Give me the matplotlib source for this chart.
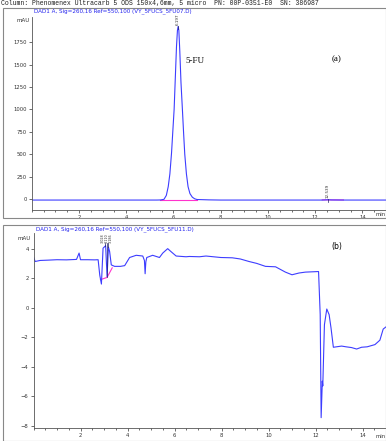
import matplotlib
matplotlib.use("Agg")
import matplotlib.pyplot as plt
from matplotlib.patches import Rectangle
from matplotlib.ticker import MultipleLocator

# ---------------- data ----------------
header = "Column: Phenomenex Ultracarb 5 ODS 150x4,6mm, 5 micro  PN: 00P-0351-E0  SN: 386987"
title_a = "DAD1 A, Sig=260,16 Ref=550,100 (VY_5FUCS_5FU07.D)"
title_b = "DAD1 A, Sig=260,16 Ref=550,100 (VY_5FUCS_5FU11.D)"

time_a = [0, 5.3, 5.45, 5.6, 5.7, 5.78, 5.85, 5.92, 5.98, 6.03, 6.08, 6.13, 6.17,
          6.20, 6.23, 6.27, 6.32, 6.38, 6.43, 6.48, 6.55, 6.62, 6.7, 6.8, 6.9,
          7.0, 7.5, 8.0, 12.3, 12.4, 12.54, 12.7, 13.2, 15.0]
signal_a = [-12, -12, -11, -4, 40, 137, 280, 513, 780, 1000, 1350, 1700, 1880,
            1925, 1880, 1650, 1300, 1000, 740, 500, 280, 137, 60, 20, 2,
            -6, -10, -12, -12, -11, -9, -11, -12, -12]
base_a_t = [5.43, 6.98]
base_a_v = [-12, -12]
base_a2_t = [12.3, 13.2]
base_a2_v = [-10, -11]
peak_a_t = [6.197, 12.539]
peak_a_v = [1925, -9]
peak_a_lbl = ["6.197", "12.539"]

time_b = [0, 0.07, 0.28, 0.6, 1.0, 1.4, 1.83, 1.94, 2.0, 2.3, 2.6, 2.75, 2.82, 2.89,
          2.96, 3.07, 3.13, 3.19, 3.24, 3.31, 3.45, 3.7, 3.88, 4.09, 4.37, 4.65,
          4.72, 4.75, 4.78, 4.82, 5.07, 5.36, 5.5, 5.71, 5.85, 6.07, 6.49, 6.63,
          7.06, 7.34, 7.97, 8.46, 8.8, 9.17, 9.5, 9.87, 10.3, 10.72, 11.0, 11.3,
          11.57, 12.13, 12.2, 12.24, 12.29, 12.31, 12.38, 12.48, 12.58, 12.66,
          12.76, 13.11, 13.3, 13.53, 13.75, 13.96, 14.2, 14.53, 14.74, 14.88, 15.0]
signal_b = [3.45, 3.13, 3.2, 3.22, 3.25, 3.24, 3.27, 3.7, 3.25, 3.25, 3.24, 3.25, 2.2, 1.6,
            4.03, 4.2, 2.1, 4.1, 3.8, 2.9, 2.8, 2.8, 2.85, 3.4, 3.55, 3.5,
            3.2, 2.3, 3.1, 3.4, 3.55, 3.4, 3.7, 4.0, 3.8, 3.5, 3.45, 3.47,
            3.45, 3.5, 3.4, 3.38, 3.3, 3.13, 3.0, 2.8, 2.77, 2.41, 2.23, 2.35,
            2.41, 2.45, -0.47, -7.45, -4.98, -5.3, -1.15, -0.09, -0.47, -1.37,
            -2.68, -2.6, -2.65, -2.7, -2.8, -2.68, -2.65, -2.5, -2.2, -1.45, -1.3]
base_b_t = [2.85, 3.13, 3.35]
base_b_v = [1.9, 2.05, 2.7]
peak_b_t = [3.03, 3.11, 3.19]
peak_b_v = [4.2, 2.1, 4.1]
peak_b_lbl = ["3.028", "3.110", "3.186"]

yt_a = [0, 250, 500, 750, 1000, 1250, 1500, 1750]
yt_b = [-8, -6, -4, -2, 0, 2, 4]
xt = [2, 4, 6, 8, 10, 12, 14]

# ---------------- figure ----------------
W, H = 386, 441
fig = plt.figure(figsize=(W / 100, H / 100), dpi=100)
fig.patch.set_facecolor("white")

def fx(px):
    return px / W

def fy(py):
    return 1 - py / H

# outer frames
for (x0, y0, x1, y1) in [(3, 8, 386, 218), (3, 225, 386, 441)]:
    fig.patches.append(Rectangle((fx(x0), fy(y1)), fx(x1 - x0), (y1 - y0) / H,
                                 transform=fig.transFigure, fill=False,
                                 edgecolor="#888888", linewidth=0.8))

fig.text(fx(1), fy(3.5), header, family="Liberation Mono", fontsize=4.7,
         va="center", ha="left", color="#222222")

blue = "#3d3dff"
pink = "#ff33cc"
tickfs = 3.8

def style(ax, yt, xmax=15.0):
    for s in ["top", "right"]:
        ax.spines[s].set_visible(False)
    for s in ["left", "bottom"]:
        ax.spines[s].set_color("#555555")
        ax.spines[s].set_linewidth(0.6)
    ax.set_xlim(0, xmax)
    ax.set_xticks(xt)
    ax.xaxis.set_minor_locator(MultipleLocator(0.5))
    ax.set_yticks(yt)
    ax.tick_params(axis="both", which="major", labelsize=tickfs, length=2.5,
                   width=0.5, pad=1, colors="#333333")
    ax.tick_params(axis="x", which="minor", length=1.5, width=0.5, colors="#333333")
    ax.set_facecolor("white")

# top panel
axa = fig.add_axes([fx(31.7), fy(210), 1 - fx(31.7), (210 - 17) / H])
axa.plot(base_a_t, base_a_v, color=pink, lw=0.8)
axa.plot(base_a2_t, base_a2_v, color=pink, lw=0.8)
axa.plot(time_a, signal_a, color=blue, lw=0.8)
axa.set_ylim(-123, 2030)
style(axa, yt_a)
for t, v, l in zip(peak_a_t, peak_a_v, peak_a_lbl):
    axa.text(t, v + 15, l, rotation=90, fontsize=3.0, ha="center", va="bottom",
             color="#333333")
    axa.plot([t, t], [v - 30, v + 10], color="#222266", lw=0.5)
fig.text(fx(185), fy(61), "5-FU", family="Liberation Serif", fontsize=6.5,
         va="center", ha="left")
fig.text(fx(337), fy(59), "(a)", family="Liberation Serif", fontsize=6.5,
         va="center", ha="center")
fig.text(fx(34), fy(11), title_a, fontsize=4.1, color="#2222ee", va="center", ha="left")
fig.text(fx(30), fy(20), "mAU", fontsize=4.0, va="center", ha="right", color="#333333")
fig.text(fx(376), fy(215), "min", fontsize=3.8, va="center", ha="left", color="#333333")

# bottom panel
axb = fig.add_axes([fx(33.5), fy(428), 1 - fx(33.5), (428 - 233) / H])
axb.plot(base_b_t, base_b_v, color=pink, lw=0.8)
axb.plot(time_b, signal_b, color=blue, lw=0.8)
axb.set_ylim(-8.15, 5.06)
style(axb, yt_b)
lbl_x = [2.95, 3.11, 3.27]
for t, v, l, lx in zip(peak_b_t, peak_b_v, peak_b_lbl, lbl_x):
    axb.text(lx, 4.35, l, rotation=90, fontsize=2.4, ha="center", va="bottom",
             color="#333333")
    axb.plot([t, t], [v, 4.35], color="#222266", lw=0.5)
fig.text(fx(337), fy(247), "(b)", fontsize=5.5, va="center", ha="center")
fig.text(fx(36), fy(229), title_b, fontsize=4.1, color="#2222ee", va="center", ha="left")
fig.text(fx(31), fy(238), "mAU", fontsize=4.0, va="center", ha="right", color="#333333")
fig.text(fx(376), fy(436), "min", fontsize=3.8, va="center", ha="left", color="#333333")

fig.savefig("out.png", dpi=100, facecolor="white")
